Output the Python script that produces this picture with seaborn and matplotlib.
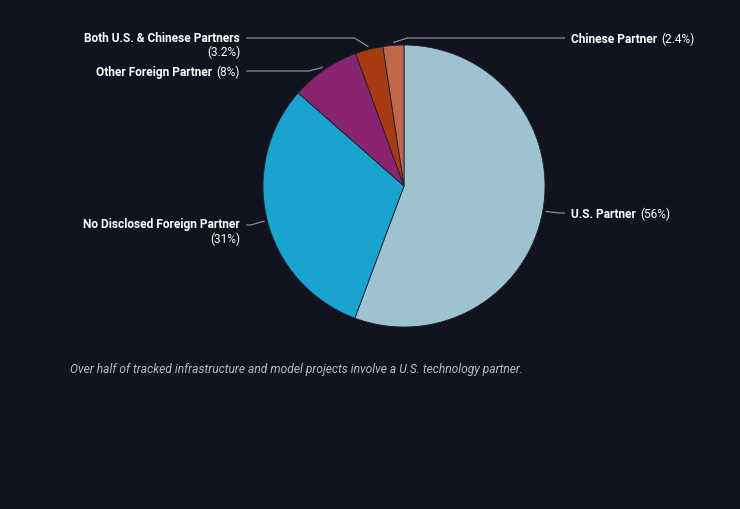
import numpy as np
import matplotlib
matplotlib.use("Agg")
import matplotlib.pyplot as plt
import seaborn as sns
from matplotlib.offsetbox import TextArea, HPacker, VPacker, AnnotationBbox

# ---- data ----
categories = ["U.S. Partner", "No Disclosed Foreign Partner", "Other Foreign Partner",
              "Both U.S. & Chinese Partners", "Chinese Partner"]
shares = [56, 31, 8, 3.2, 2.4]
pct_labels = ["(56%)", "(31%)", "(8%)", "(3.2%)", "(2.4%)"]
colors = ["#9dc3d1", "#19a3cf", "#882470", "#a83b14", "#bf664b"]
caption = "Over half of tracked infrastructure and model projects involve a U.S. technology partner."

BG = "#11141f"
sns.set_theme(style="dark")
plt.rcParams["font.family"] = ["Roboto", "DejaVu Sans"]

W, H = 740, 510
fig = plt.figure(figsize=(W / 100, H / 100), dpi=100, facecolor=BG)
cx, cy, R = 404, 187, 141
ax = fig.add_axes([(cx - R) / W, (H - cy - R) / H, 2 * R / W, 2 * R / H])
ax.set_facecolor(BG)
ax.axis("off")

wedges, _ = ax.pie(shares, colors=colors, startangle=90, counterclock=False,
                   radius=1.0, wedgeprops=dict(edgecolor="#1b1f2c", linewidth=0.6))
ax.set_xlim(-1, 1)
ax.set_ylim(-1, 1)
ax.set_aspect("equal")

def to_data(px, py):
    return (px - cx) / R, (cy - py) / R

# label layout (pixel positions in figure): side, text x, text y, wrap
layout = [
    ("right", 571, 214, False),
    ("left", 240, 226, True),
    ("left", 240, 72, False),
    ("left", 240, 39, True),
    ("right", 571, 39, False),
]

line_col = "#8b8f99"
fs = 8.6
for w, name, pct, (side, tx, ty, wrap) in zip(wedges, categories, pct_labels, layout):
    ang = np.deg2rad((w.theta1 + w.theta2) / 2)
    sx, sy = 1.02 * np.cos(ang), 1.02 * np.sin(ang)
    sign = 1 if side == "right" else -1
    lx, ly = to_data(tx, ty)
    ex = sx + sign * 14 / R
    endx = lx - sign * 6 / R
    ax.plot([sx, ex, endx], [sy, ly, ly], color=line_col, lw=0.9,
            clip_on=False, solid_capstyle="butt")
    t_name = TextArea(name, textprops=dict(color="white", fontsize=fs, fontweight="bold"))
    t_pct = TextArea(pct, textprops=dict(color="white", fontsize=fs))
    if wrap:
        box = VPacker(children=[t_name, t_pct], align="right", pad=0, sep=1)
        yalign = 1.0
        lyb = ly + 7.5 / R
    else:
        box = HPacker(children=[t_name, t_pct], align="baseline", pad=0, sep=3)
        yalign = 0.5
        lyb = ly
    ab = AnnotationBbox(box, (lx, lyb), xycoords="data", frameon=False,
                        box_alignment=(0 if side == "right" else 1, yalign),
                        pad=0, annotation_clip=False)
    ax.add_artist(ab)

fig.text(70 / W, 1 - 370 / H, caption, color="#b9bcc4", fontsize=8.65,
         fontstyle="italic", ha="left", va="center")

fig.savefig("out.png", dpi=100, facecolor=BG)
